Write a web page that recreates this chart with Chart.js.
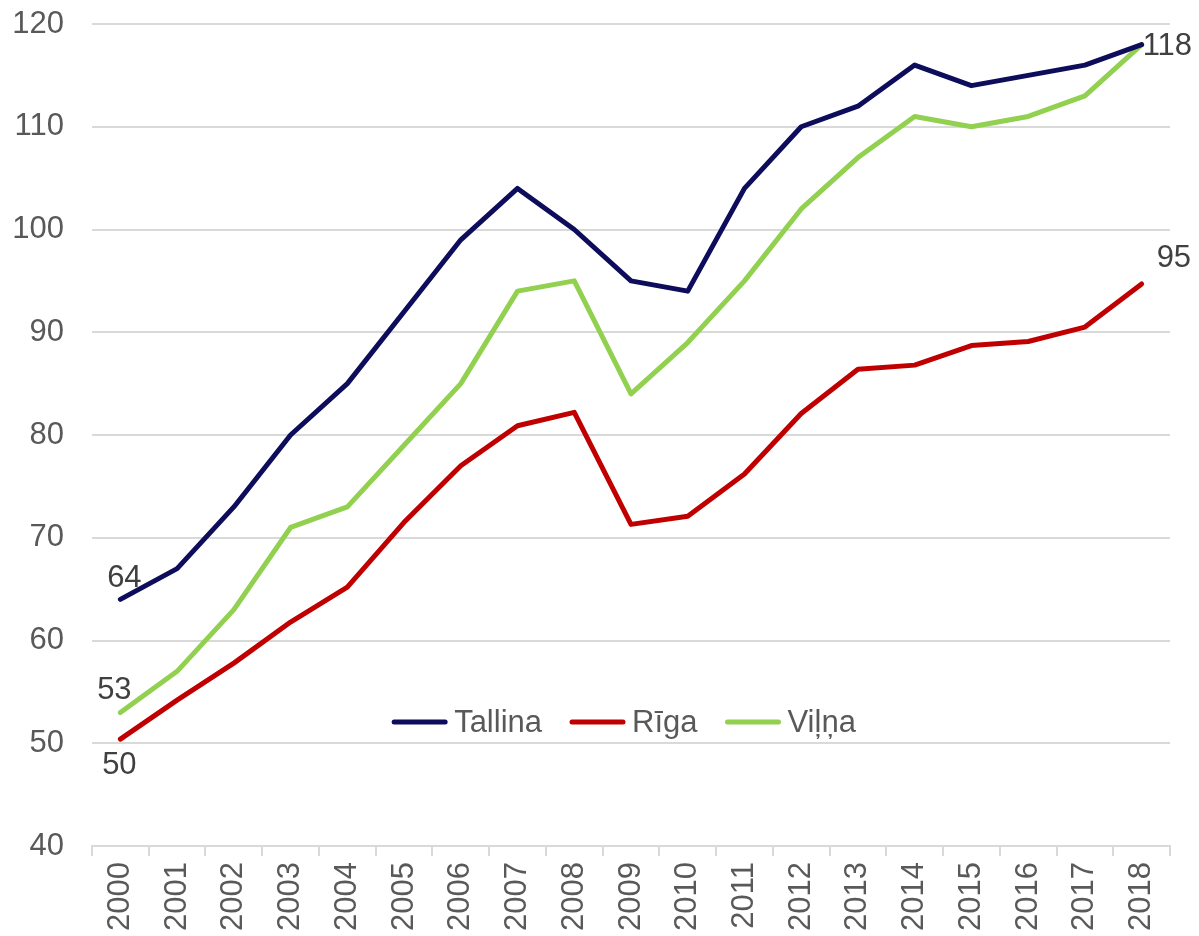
<!DOCTYPE html>
<html>
<head>
<meta charset="utf-8">
<script src="https://cdn.jsdelivr.net/npm/chart.js@4"></script>
<style>
  html, body { margin: 0; padding: 0; background: #fff; }
  #wrap { width: 1199px; height: 936px; position: relative; }
</style>
</head>
<body>
<div id="wrap"><canvas id="chart"></canvas></div>
<script>
// Years on the category axis
const years = ["2000", "2001", "2002", "2003", "2004", "2005", "2006", "2007", "2008", "2009",
  "2010", "2011", "2012", "2013", "2014", "2015", "2016", "2017", "2018"];

const tallina = [64, 67, 73, 80, 85, 92, 99, 104, 100, 95, 94, 104, 110, 112, 116, 114, 115, 116, 118];
const riga = [50.4, 54.2, 57.8, 61.8, 65.2, 71.5, 77.0, 80.9, 82.2, 71.3, 72.1, 76.2, 82.1, 86.4, 86.8, 88.7, 89.1, 90.5, 94.7];
const vilna = [53, 57, 63, 71, 73, 79, 85, 94, 95, 84, 89, 95, 102, 107, 111, 110, 111, 113, 118];

const seriesNames = ["Tallina", "Rīga", "Viļņa"];

// Which points get a value label: [dataset, index, dx, dy, align]
const pointLabels = [
  [0, 0, 4, -21, "center"],
  [2, 0, -6, -22, "center"],
  [1, 0, -1, 26, "center"],
  [0, 18, 1, 2, "left"],
  [1, 18, 15, -26, "left"],
];

const FONT = "'Liberation Sans', Arial, sans-serif";
const GREY = "#595959";
const GRID = "#d9d9d9";

// Value labels next to chosen points
const valueLabels = {
  id: "valueLabels",
  afterDatasetsDraw(chart) {
    const { ctx } = chart;
    ctx.save();
    ctx.font = "31px " + FONT;
    ctx.fillStyle = "#404040";
    ctx.textBaseline = "middle";
    pointLabels.forEach(([ds, i, dx, dy, align]) => {
      const pt = chart.getDatasetMeta(ds).data[i];
      const v = chart.data.datasets[ds].data[i];
      ctx.textAlign = align;
      ctx.fillText(String(Math.round(v)), pt.x + dx, pt.y + dy);
    });
    ctx.restore();
  },
};

// Legend drawn inside the plot area, near the bottom
const innerLegend = {
  id: "innerLegend",
  afterDraw(chart) {
    const { ctx, chartArea } = chart;
    ctx.save();
    ctx.font = "31px " + FONT;
    ctx.textBaseline = "middle";
    ctx.lineCap = "round";
    const lineLen = 55, gap = 7, itemGap = 28;
    const items = chart.data.datasets.map(d => ({
      label: d.label, color: d.borderColor,
      w: lineLen + gap + ctx.measureText(d.label).width,
    }));
    const total = items.reduce((s, it) => s + it.w, 0) + itemGap * (items.length - 1);
    let x = (chartArea.left + chartArea.right) / 2 - total / 2 - 7;
    const y = 722;
    items.forEach(it => {
      ctx.strokeStyle = it.color;
      ctx.lineWidth = 5;
      ctx.beginPath();
      ctx.moveTo(x + 2, y);
      ctx.lineTo(x + lineLen - 2, y);
      ctx.stroke();
      ctx.fillStyle = GREY;
      ctx.textAlign = "left";
      ctx.fillText(it.label, x + lineLen + gap, y + 1);
      x += it.w + itemGap;
    });
    ctx.restore();
  },
};

const line = (label, data, color) => ({
  label, data,
  borderColor: color,
  backgroundColor: color,
  borderWidth: 5,
  pointRadius: 0,
  tension: 0,
  borderCapStyle: "round",
  borderJoinStyle: "round",
});

new Chart(document.getElementById("chart"), {
  type: "line",
  data: {
    labels: years,
    datasets: [
      line(seriesNames[0], tallina, "#0d0d5c"),
      line(seriesNames[1], riga, "#c00000"),
      line(seriesNames[2], vilna, "#92d050"),
    ],
  },
  options: {
    responsive: true,
    maintainAspectRatio: false,
    animation: false,
    layout: { padding: { top: 24, right: 29, left: 0, bottom: 0 } },
    plugins: {
      legend: { display: false },
      tooltip: { enabled: false },
    },
    scales: {
      x: {
        offset: true,
        grid: { display: true, drawOnChartArea: false, drawTicks: true, tickLength: 10, offset: true, color: GRID, lineWidth: 2 },
        border: { display: true, color: GRID, width: 2 },
        ticks: {
          color: GREY,
          font: { family: FONT, size: 31 },
          minRotation: 90, maxRotation: 90,
          padding: 6,
          autoSkip: false,
        },
        afterFit(scale) {
          scale.height = 90;
          scale.paddingLeft = 0;
          scale.paddingRight = 0;
        },
      },
      y: {
        min: 40, max: 120,
        grid: { color: GRID, lineWidth: 2, drawTicks: false },
        border: { display: false },
        ticks: {
          stepSize: 10,
          color: GREY,
          padding: 28,
          font: { family: FONT, size: 31 },
        },
        afterFit(scale) {
          scale.width = 92;
          scale.paddingTop = 0;
          scale.paddingBottom = 0;
        },
      },
    },
  },
  plugins: [valueLabels, innerLegend],
});
</script>
</body>
</html>
